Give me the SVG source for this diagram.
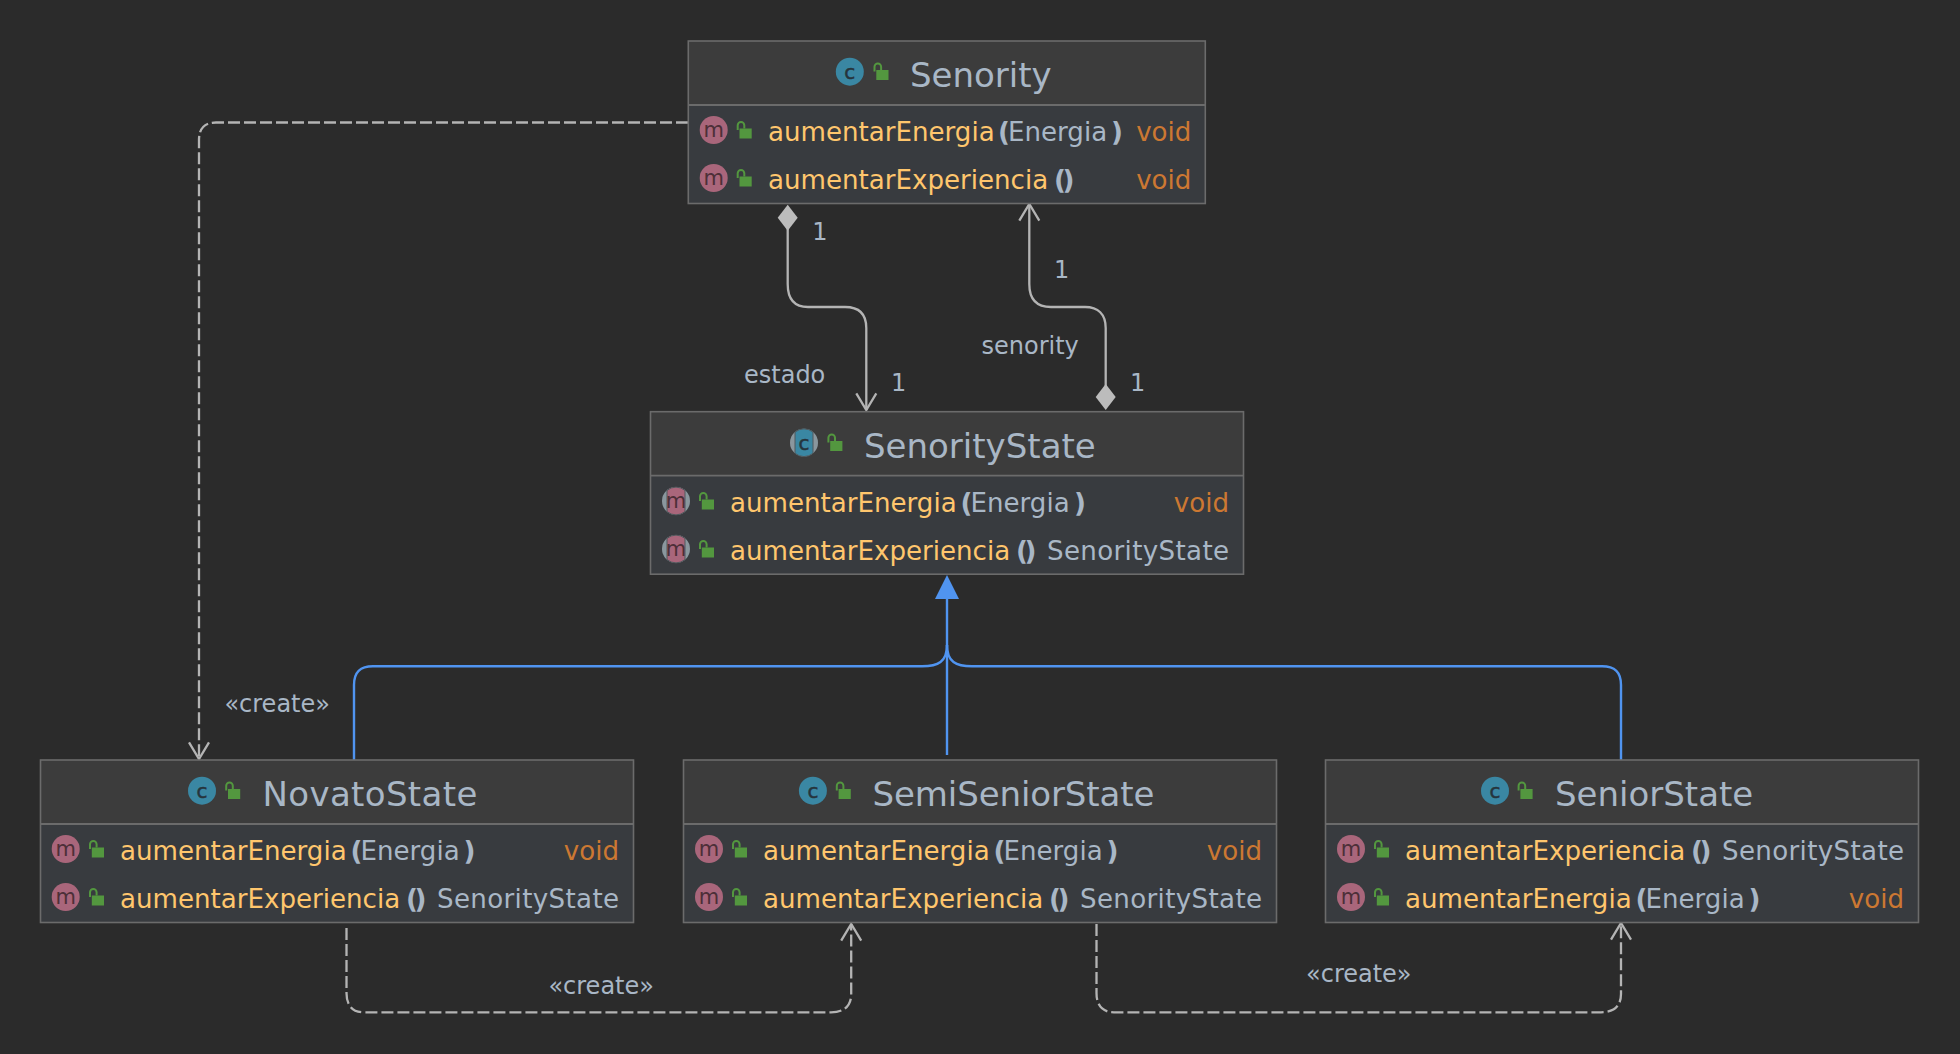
<svg xmlns="http://www.w3.org/2000/svg" width="1960" height="1054" viewBox="0 0 1960 1054">
<style>
text{font-family:"DejaVu Sans",sans-serif;fill:#a9b7c6}
.t{font-size:34px}
.r{font-size:26.1px}
.l{font-size:24px}
.n{fill:#ffc66d}
.v{fill:#cc7832}
.p{font-weight:bold}
.b{font-weight:bold;letter-spacing:-3.5px}
.s{letter-spacing:.35px}
.tight{letter-spacing:-.1px}
.e{text-anchor:end}
.ic{font-size:20px;fill:#26343c;stroke:#26343c;stroke-width:.5;text-anchor:middle}
.im{font-size:21px;fill:#4d2f38;text-anchor:middle}
.head{fill:#3c3c3c}
.body{fill:#383b3f}
.box{fill:none;stroke:#6b6b6b;stroke-width:1.6}
.div{stroke:#6b6b6b;stroke-width:1.8}
.conn{fill:none;stroke:#b4b4b4;stroke-width:2.3}
.dash{stroke-dasharray:12 4}
.blue{fill:none;stroke:#5094f0;stroke-width:2.4}
</style>
<defs>
<g id="lock"><rect x="0" y="0" width="12.2" height="10" fill="#53973f"/><path d="M-1.8 1.5V-3.2a3.3 3.3 0 0 1 6.6 0V0" fill="none" stroke="#53973f" stroke-width="2"/></g>
<circle id="cc" r="14" fill="#3a87a3"/>
<circle id="mm" r="14" fill="#a9667b"/>
<g id="ca"><circle r="14" fill="#8a979e"/><path d="M-9 -10.6A14 14 0 0 1 9 -10.6V10.6A14 14 0 0 1 -9 10.6Z" fill="#3a87a3" stroke="#50585c"/></g>
<g id="ma"><circle r="14" fill="#8a979e"/><path d="M-9 -10.6A14 14 0 0 1 9 -10.6V10.6A14 14 0 0 1 -9 10.6Z" fill="#a9667b" stroke="#50585c"/></g>
<marker id="open" markerUnits="userSpaceOnUse" markerWidth="26" markerHeight="24" refX="20" refY="12" orient="auto"><path d="M3.3 2L20 12L3.3 22" fill="none" stroke="#b4b4b4" stroke-width="2.3"/></marker>
</defs>
<rect width="1960" height="1054" fill="#2b2b2b"/>
<g id="connectors">
<path class="conn dash" d="M688 122.5H216C205 122.5 199 128 199 140V759" marker-end="url(#open)"/>
<path class="conn" d="M787.7 228V284C787.7 300 795 307 808 307H845C859 307 866.3 314 866.3 328V410" marker-end="url(#open)"/>
<path class="conn" d="M1105.7 386V328C1105.7 314 1098 307 1085 307H1051C1037 307 1029.3 300 1029.3 284V204" marker-end="url(#open)"/>
<path class="conn dash" d="M346.5 928V993C346.5 1005 352 1012.3 364 1012.3H831C844 1012.3 851.2 1006 851.2 994V924" marker-end="url(#open)"/>
<path class="conn dash" d="M1096.5 924V993C1096.5 1005 1102 1012.3 1114 1012.3H1601C1614 1012.3 1621 1006 1621 994V923" marker-end="url(#open)"/>
<path d="M787.7 204.7L797.7 217.7L787.7 230.7L777.7 217.7Z" fill="#bcbcbc"/>
<path d="M1105.7 384L1115.7 397L1105.7 410L1095.7 397Z" fill="#bcbcbc"/>
<path class="blue" d="M354 760V685C354 672 360 666.3 373 666.3H922C938 666.3 947 662 947 645"/>
<path class="blue" d="M1621 760V685C1621 672 1615 666.3 1602 666.3H972C956 666.3 947 662 947 645"/>
<path class="blue" d="M947 755V598"/>
<path d="M947 575L959 599H935Z" fill="#5094f0"/>
<text class="l" x="812.2" y="240">1</text>
<text class="l" x="891" y="390.7">1</text>
<text class="l" x="1054" y="277.7">1</text>
<text class="l" x="1130" y="390.7">1</text>
<text class="l" x="744" y="383.3">estado</text>
<text class="l" x="981.5" y="354.3">senority</text>
<text class="l" x="224.4" y="712">«create»</text>
<text class="l" x="548.4" y="994">«create»</text>
<text class="l" x="1306" y="982">«create»</text>
</g>
<g id="node-senority">
<rect class="head" x="688.3" y="41" width="517" height="64"/><rect class="body" x="688.3" y="105" width="517" height="98.5"/>
<line class="div" x1="688.3" x2="1205.3" y1="105" y2="105"/><rect class="box" x="688.3" y="41" width="517" height="162.5"/>
<use href="#cc" x="849.8" y="71.7"/><text class="ic" x="849.8" y="78.5">c</text><use href="#lock" x="876.3" y="70"/>
<text class="t" x="910" y="87">Senority</text>
<use href="#mm" x="713.7" y="130"/><text class="im" x="713.7" y="136.5">m</text><use href="#lock" x="739.5" y="128.5"/>
<text class="r n" x="768" y="140.7">aumentarEnergia</text><text class="r p" x="998" y="140.7">(</text><text class="r" x="1008" y="140.7">Energia</text><text class="r p" x="1111" y="140.7">)</text><text class="r v e" x="1191.4" y="140.7">void</text>
<use href="#mm" x="713.7" y="178"/><text class="im" x="713.7" y="184.5">m</text><use href="#lock" x="739.5" y="176.5"/>
<text class="r n" x="768" y="188.7">aumentarExperiencia</text><text class="r b" x="1054" y="188.7">()</text><text class="r v e" x="1191.4" y="188.7">void</text>
</g>
<g id="node-senoritystate">
<rect class="head" x="650.5" y="411.7" width="593" height="64"/><rect class="body" x="650.5" y="475.7" width="593" height="98.5"/>
<line class="div" x1="650.5" x2="1243.5" y1="475.7" y2="475.7"/><rect class="box" x="650.5" y="411.7" width="593" height="162.5"/>
<use href="#ca" x="804" y="442.7"/><text class="ic" x="804" y="449.5">c</text><use href="#lock" x="830.2" y="441"/>
<text class="t" x="864" y="457.7">SenorityState</text>
<use href="#ma" x="676" y="501"/><text class="im" x="676" y="507.5">m</text><use href="#lock" x="701.8" y="499.5"/>
<text class="r n" x="730" y="511.7">aumentarEnergia</text><text class="r p" x="960.5" y="511.7">(</text><text class="r" x="970.5" y="511.7">Energia</text><text class="r p" x="1074" y="511.7">)</text><text class="r v e" x="1229" y="511.7">void</text>
<use href="#ma" x="676" y="549"/><text class="im" x="676" y="555.5">m</text><use href="#lock" x="701.8" y="547.5"/>
<text class="r n" x="730" y="560">aumentarExperiencia</text><text class="r b" x="1016" y="560">()</text><text class="r e s" x="1229.4" y="560">SenorityState</text>
</g>
<g id="node-novatostate">
<rect class="head" x="40.5" y="760" width="593" height="64"/><rect class="body" x="40.5" y="824" width="593" height="98.5"/>
<line class="div" x1="40.5" x2="633.5" y1="824" y2="824"/><rect class="box" x="40.5" y="760" width="593" height="162.5"/>
<use href="#cc" x="202" y="790.7"/><text class="ic" x="202" y="797.5">c</text><use href="#lock" x="228" y="789"/>
<text class="t s" x="262.5" y="806">NovatoState</text>
<use href="#mm" x="65.7" y="849"/><text class="im" x="65.7" y="855.5">m</text><use href="#lock" x="91.8" y="847.5"/>
<text class="r n" x="120" y="860">aumentarEnergia</text><text class="r p" x="350.5" y="860">(</text><text class="r" x="360.5" y="860">Energia</text><text class="r p" x="463.5" y="860">)</text><text class="r v e" x="619" y="860">void</text>
<use href="#mm" x="65.7" y="897"/><text class="im" x="65.7" y="903.5">m</text><use href="#lock" x="91.8" y="895.5"/>
<text class="r n" x="120" y="908">aumentarExperiencia</text><text class="r b" x="406" y="908">()</text><text class="r e s" x="619.4" y="908">SenorityState</text>
</g>
<g id="node-semiseniorstate">
<rect class="head" x="683.5" y="760" width="593" height="64"/><rect class="body" x="683.5" y="824" width="593" height="98.5"/>
<line class="div" x1="683.5" x2="1276.5" y1="824" y2="824"/><rect class="box" x="683.5" y="760" width="593" height="162.5"/>
<use href="#cc" x="812.9" y="790.7"/><text class="ic" x="812.9" y="797.5">c</text><use href="#lock" x="838.6" y="789"/>
<text class="t tight" x="872.5" y="806">SemiSeniorState</text>
<use href="#mm" x="709" y="849"/><text class="im" x="709" y="855.5">m</text><use href="#lock" x="734.8" y="847.5"/>
<text class="r n" x="763" y="860">aumentarEnergia</text><text class="r p" x="993.5" y="860">(</text><text class="r" x="1003.5" y="860">Energia</text><text class="r p" x="1106.5" y="860">)</text><text class="r v e" x="1262" y="860">void</text>
<use href="#mm" x="709" y="897"/><text class="im" x="709" y="903.5">m</text><use href="#lock" x="734.8" y="895.5"/>
<text class="r n" x="763" y="908">aumentarExperiencia</text><text class="r b" x="1049" y="908">()</text><text class="r e s" x="1262.4" y="908">SenorityState</text>
</g>
<g id="node-seniorstate">
<rect class="head" x="1325.5" y="760" width="593" height="64"/><rect class="body" x="1325.5" y="824" width="593" height="98.5"/>
<line class="div" x1="1325.5" x2="1918.5" y1="824" y2="824"/><rect class="box" x="1325.5" y="760" width="593" height="162.5"/>
<use href="#cc" x="1495" y="790.7"/><text class="ic" x="1495" y="797.5">c</text><use href="#lock" x="1520.4" y="789"/>
<text class="t" x="1555" y="806">SeniorState</text>
<use href="#mm" x="1351" y="849"/><text class="im" x="1351" y="855.5">m</text><use href="#lock" x="1376.8" y="847.5"/>
<text class="r n" x="1405" y="860">aumentarExperiencia</text><text class="r b" x="1691" y="860">()</text><text class="r e s" x="1904.4" y="860">SenorityState</text>
<use href="#mm" x="1351" y="897"/><text class="im" x="1351" y="903.5">m</text><use href="#lock" x="1376.8" y="895.5"/>
<text class="r n" x="1405" y="908">aumentarEnergia</text><text class="r p" x="1635.5" y="908">(</text><text class="r" x="1645.5" y="908">Energia</text><text class="r p" x="1748.5" y="908">)</text><text class="r v e" x="1904" y="908">void</text>
</g>
</svg>
